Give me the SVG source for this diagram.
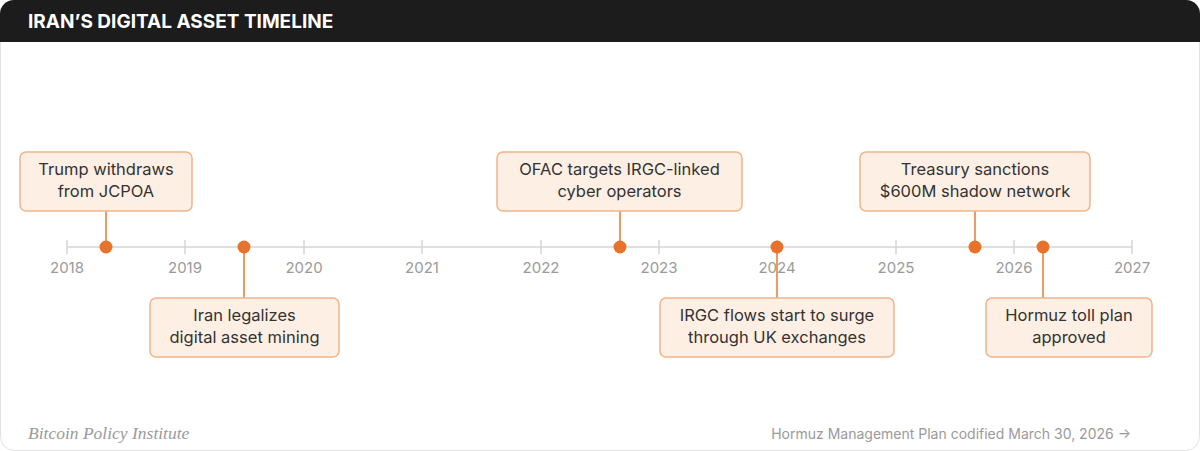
<svg xmlns="http://www.w3.org/2000/svg" width="1200" height="451" viewBox="0 0 1200 451">
<style>
.box{fill:#fdefe4;stroke:#efb48a;stroke-width:1.5}
.lbl{font-family:Inter,"Liberation Sans",sans-serif;font-size:16.5px;fill:#333;text-anchor:middle}
.yr{font-family:Inter,"Liberation Sans",sans-serif;font-size:15px;fill:#9a9a9a;text-anchor:middle}
.tick{stroke:#d4d4d4;stroke-width:1.5}
.conn{stroke:#e8782e;stroke-width:1.5}
.dot{fill:#e8722a}
</style>
<rect x="0.5" y="0.5" width="1199" height="450" rx="14" fill="#fff" stroke="#e2e2e2"/>
<path d="M0,14 A14,14 0 0 1 14,0 H1186 A14,14 0 0 1 1200,14 V42 H0 Z" fill="#1c1c1c"/>
<text x="28" y="28" font-family="Inter,'Liberation Sans',sans-serif" font-size="19" font-weight="700" fill="#fff">IRAN’S DIGITAL ASSET TIMELINE</text>
<g id="axis">
<line class="tick" x1="67" y1="247" x2="1132" y2="247"/>
<line class="tick" x1="67" y1="240" x2="67" y2="254"/>
<line class="tick" x1="185" y1="240" x2="185" y2="254"/>
<line class="tick" x1="304" y1="240" x2="304" y2="254"/>
<line class="tick" x1="422" y1="240" x2="422" y2="254"/>
<line class="tick" x1="541" y1="240" x2="541" y2="254"/>
<line class="tick" x1="659" y1="240" x2="659" y2="254"/>
<line class="tick" x1="777" y1="240" x2="777" y2="254"/>
<line class="tick" x1="896" y1="240" x2="896" y2="254"/>
<line class="tick" x1="1014" y1="240" x2="1014" y2="254"/>
<line class="tick" x1="1132" y1="240" x2="1132" y2="254"/>
<text class="yr" x="67" y="273">2018</text>
<text class="yr" x="185" y="273">2019</text>
<text class="yr" x="304" y="273">2020</text>
<text class="yr" x="422" y="273">2021</text>
<text class="yr" x="541" y="273">2022</text>
<text class="yr" x="659" y="273">2023</text>
<text class="yr" x="777" y="273">2024</text>
<text class="yr" x="896" y="273">2025</text>
<text class="yr" x="1014" y="273">2026</text>
<text class="yr" x="1132" y="273">2027</text>
</g>
<g id="connectors">
<line class="conn" x1="106" y1="211" x2="106" y2="247"/>
<line class="conn" x1="244" y1="247" x2="244" y2="298"/>
<line class="conn" x1="620" y1="211" x2="620" y2="247"/>
<line class="conn" x1="777" y1="247" x2="777" y2="298"/>
<line class="conn" x1="975" y1="211" x2="975" y2="247"/>
<line class="conn" x1="1043" y1="247" x2="1043" y2="298"/>
</g>
<g id="e1">
<rect class="box" x="20" y="152" width="172" height="59" rx="6"/>
<text class="lbl" x="106" y="175">Trump withdraws</text>
<text class="lbl" x="106" y="197">from JCPOA</text>
<circle class="dot" cx="106" cy="247" r="6.5"/>
</g>
<g id="e2">
<rect class="box" x="150" y="298" width="189" height="59" rx="6"/>
<text class="lbl" x="244.5" y="321">Iran legalizes</text>
<text class="lbl" x="244.5" y="343">digital asset mining</text>
<circle class="dot" cx="244" cy="247" r="6.5"/>
</g>
<g id="e3">
<rect class="box" x="497" y="152" width="245" height="59" rx="6"/>
<text class="lbl" x="619.5" y="175">OFAC targets IRGC-linked</text>
<text class="lbl" x="619.5" y="197">cyber operators</text>
<circle class="dot" cx="620" cy="247" r="6.5"/>
</g>
<g id="e4">
<rect class="box" x="660" y="298" width="234" height="59" rx="6"/>
<text class="lbl" x="777" y="321">IRGC flows start to surge</text>
<text class="lbl" x="777" y="343">through UK exchanges</text>
<circle class="dot" cx="777" cy="247" r="6.5"/>
</g>
<g id="e5">
<rect class="box" x="860" y="152" width="230" height="59" rx="6"/>
<text class="lbl" x="975" y="175">Treasury sanctions</text>
<text class="lbl" x="975" y="197">$600M shadow network</text>
<circle class="dot" cx="975" cy="247" r="6.5"/>
</g>
<g id="e6">
<rect class="box" x="986" y="298" width="166" height="59" rx="6"/>
<text class="lbl" x="1069" y="321">Hormuz toll plan</text>
<text class="lbl" x="1069" y="343">approved</text>
<circle class="dot" cx="1043" cy="247" r="6.5"/>
</g>
<text x="28" y="439" font-family="'Liberation Serif',serif" font-style="italic" font-size="17.5" fill="#9a9a9a">Bitcoin Policy Institute</text>
<text x="1131" y="439" text-anchor="end" font-family="Inter,'Liberation Sans',sans-serif" font-size="14" fill="#9a9a9a">Hormuz Management Plan codified March 30, 2026 →</text>
</svg>
